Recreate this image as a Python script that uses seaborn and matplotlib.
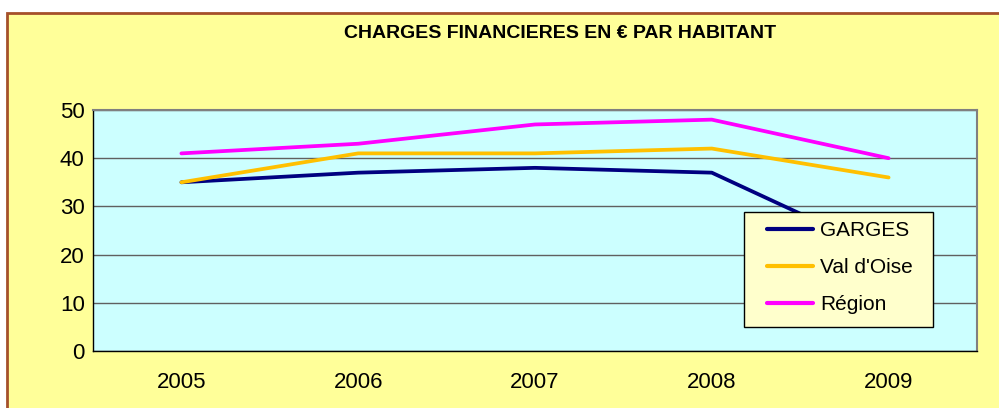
import pandas as pd
import numpy as np
import matplotlib.pyplot as plt
import matplotlib.patches as patches
import seaborn as sns

years = ["2005", "2006", "2007", "2008", "2009"]
garges = [35, 37, 38, 37, 20]
val_oise = [35, 41, 41, 42, 36]
region = [41, 43, 47, 48, 40]
series_names = ["GARGES", "Val d'Oise", "Région"]
colors = {"GARGES": "#000080", "Val d'Oise": "#FFC000", "Région": "#FF00FF"}

df = pd.DataFrame({
    "year": years * 3,
    "value": garges + val_oise + region,
    "serie": [series_names[0]] * 5 + [series_names[1]] * 5 + [series_names[2]] * 5,
})

sns.set_style("white")
plt.rcParams["font.family"] = ["Liberation Sans", "DejaVu Sans"]
plt.rcParams["text.color"] = "black"
plt.rcParams["xtick.color"] = "black"
plt.rcParams["ytick.color"] = "black"

fig = plt.figure(figsize=(9.99, 4.08), dpi=100, facecolor="white")
# yellow chart area with brown border
fig.patches.append(patches.Rectangle((7 / 999, -0.1), 1.2, 395 / 408 + 0.1,
                                     transform=fig.transFigure, facecolor="#FFFF99",
                                     edgecolor="#A5502A", linewidth=2, zorder=-10))

ax = fig.add_axes([93 / 999, 57 / 408, 884 / 999, 241 / 408])
ax.set_facecolor("#CCFFFF")

sns.lineplot(data=df, x="year", y="value", hue="serie", hue_order=series_names,
             palette=colors, linewidth=2.7, ax=ax, legend=True)

ax.set_xlim(-0.5, 4.5)
ax.set_ylim(0, 50)
ax.set_yticks([0, 10, 20, 30, 40, 50])
ax.yaxis.grid(True, color="#606060", linewidth=1)
ax.set_axisbelow(True)
ax.set_xlabel("")
ax.set_ylabel("")

ax.set_xticks(np.arange(-0.5, 5, 1), minor=True)
ax.tick_params(axis="x", which="major", length=0, pad=15, labelsize=16)
ax.tick_params(axis="x", which="minor", length=5, width=1, color="black", direction="out")
ax.tick_params(axis="y", length=5, width=1, color="black", direction="out", pad=1, labelsize=16)

for s in ["left", "bottom"]:
    ax.spines[s].set_color("black")
    ax.spines[s].set_linewidth(1)
for s in ["top", "right"]:
    ax.spines[s].set_color("#808080")
    ax.spines[s].set_linewidth(1.5)

# legend box drawn separately so its padding matches the original
ax.add_patch(patches.Rectangle((0.736, 0.0996), 0.214, 0.477, transform=ax.transAxes,
                               facecolor="#FFFFCC", edgecolor="black", linewidth=1,
                               zorder=4.5, clip_on=False))
leg = ax.legend(loc="upper left", bbox_to_anchor=(0.7624, 0.539), fontsize=15,
                frameon=False, handlelength=2.2, handletextpad=0.35,
                labelspacing=0.87, borderpad=0, borderaxespad=0)
leg.set_zorder(5)
for line in leg.get_lines():
    line.set_linewidth(3)

fig.text(0.5606, 0.917, "CHARGES FINANCIERES EN € PAR HABITANT", ha="center", va="center",
         fontsize=14, fontweight="bold", color="black")

fig.savefig("out.png", dpi=100, facecolor=fig.get_facecolor())
